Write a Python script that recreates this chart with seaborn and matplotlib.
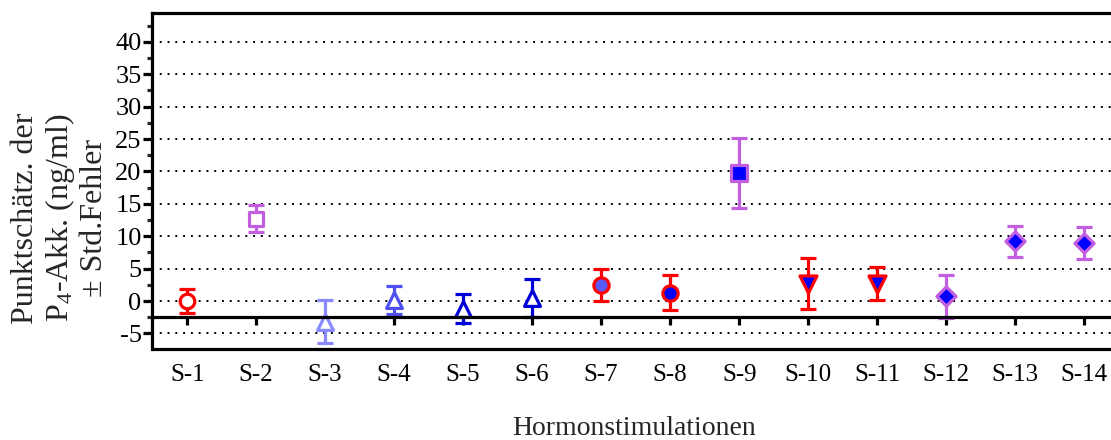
import matplotlib
matplotlib.use("Agg")
import matplotlib.pyplot as plt
import seaborn as sns
import pandas as pd
from matplotlib.ticker import MultipleLocator

# ---- data ----
categories = ["S-1", "S-2", "S-3", "S-4", "S-5", "S-6", "S-7",
              "S-8", "S-9", "S-10", "S-11", "S-12", "S-13", "S-14"]
values = [0.0, 12.7, -3.2, 0.2, -1.2, 0.45, 2.5, 1.3, 19.7, 2.7, 2.7, 0.75, 9.2, 8.95]
errors = [1.9, 2.05, 3.3, 2.15, 2.25, 2.95, 2.5, 2.7, 5.4, 3.9, 2.6, 3.3, 2.4, 2.45]
marker_shapes = ["o", "s", "^", "^", "^", "^", "o", "o", "s", "v", "v", "D", "D", "D"]
RED = "#ff0000"
PURPLE = "#c25ee0"
edge_colors = [RED, PURPLE, "#8a8aff", "#4f4ff2", "#0000d8", "#0000d8", RED, RED,
               PURPLE, RED, RED, PURPLE, PURPLE, PURPLE]
face_colors = ["white", "white", "white", "white", "white", "white", "#5a5aff", "#0000ff",
               "#0000ff", "#0000ff", "#0000ff", "#0000ff", "#0000ff", "#0000ff"]
marker_sizes = [110, 110, 130, 130, 130, 130, 120, 120, 120, 150, 150, 95, 95, 95]

sns.set_theme(style="white")
plt.rcParams["font.family"] = ["Liberation Serif", "DejaVu Serif"]
plt.rcParams["mathtext.fontset"] = "custom"
plt.rcParams["mathtext.rm"] = "Liberation Serif"
plt.rcParams["mathtext.it"] = "Liberation Serif:italic"
plt.rcParams["axes.unicode_minus"] = False

fig = plt.figure(figsize=(11.11, 4.4), dpi=100)
ax = fig.add_axes([152 / 1111, 1 - 349 / 440, 1 - 152 / 1111 + 0.01, (349 - 13) / 440])

df = pd.DataFrame({"pos": range(len(categories)), "value": values, "err": errors})

for i, row in df.iterrows():
    ax.errorbar(row["pos"], row["value"], yerr=row["err"], fmt="none",
                ecolor=edge_colors[i], elinewidth=2.3, capsize=5.5, capthick=2.3, zorder=3)
    sns.scatterplot(x=[row["pos"]], y=[row["value"]], marker=marker_shapes[i],
                    s=marker_sizes[i], color=face_colors[i], edgecolor=edge_colors[i],
                    linewidth=2.3, ax=ax, zorder=4, legend=False)

ax.set_xlim(-0.51, 13.55)
ax.set_ylim(-7.4, 44.45)
ax.yaxis.set_major_locator(MultipleLocator(5))
ax.yaxis.set_minor_locator(MultipleLocator(2.5))
ax.set_yticks(range(-5, 41, 5))
ax.set_xticks(range(len(categories)))
ax.set_xticklabels(categories)

ax.grid(False)
ax.yaxis.grid(True, which="major", color="black", linestyle=(0, (1, 3)), linewidth=1.4)
ax.set_axisbelow(True)

for side in ["left", "top", "bottom"]:
    ax.spines[side].set_visible(True)
    ax.spines[side].set_color("black")
    ax.spines[side].set_linewidth(2.3)
ax.spines["right"].set_visible(False)
ax.spines["bottom"].set_position(("data", -2.5))
ax.spines["bottom"].set_zorder(5)
ax.plot([0, 1], [0, 0], transform=ax.transAxes, color="black", lw=2.3, clip_on=False)

ax.tick_params(axis="x", direction="out", length=6, width=2.3, pad=28,
               labelsize=18, colors="black", bottom=True)
ax.tick_params(axis="y", which="major", direction="out", length=6.5, width=2.3,
               pad=1, labelsize=19, colors="black", left=True)
ax.tick_params(axis="y", which="minor", direction="out", length=3.3, width=2.3, left=True)
ax.set_xlabel("")
ax.set_ylabel("")

fig.text(60 / 1111, 1 - 218 / 440, "Punktschätz. der\nP$_4$-Akk. (ng/ml)\n± Std.Fehler",
         rotation=90, ha="center", va="center", multialignment="center",
         fontsize=23, linespacing=1.12)
fig.text(634 / 1111, 1 - 428 / 440, "Hormonstimulationen", ha="center", va="center",
         fontsize=20)

fig.savefig("out.png", dpi=100)
